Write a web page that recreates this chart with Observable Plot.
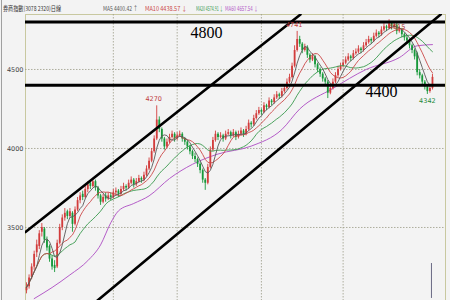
<!DOCTYPE html>
<html>
<head>
<meta charset="utf-8">
<script src="https://cdn.jsdelivr.net/npm/d3@7"></script>
<script src="https://cdn.jsdelivr.net/npm/@observablehq/plot@0.6"></script>
<style>
  body { margin: 0; background: #f3f3f3; }
  #wrap { position: relative; width: 450px; height: 300px; overflow: hidden; background: #f3f3f3; }
  #edge { position: absolute; left: 1px; top: 0; width: 1px; height: 300px; background: #a0a0a0; }
  #head { position: absolute; left: 0; top: 3px; width: 450px; height: 10px;
          font: 6.5px "Noto Sans CJK TC", "Noto Sans", sans-serif; white-space: nowrap; }
  #head span { position: absolute; top: 0; transform-origin: 0 50%; }
</style>
</head>
<body>
<div id="wrap">
  <div id="chart"></div>
  <div id="edge"></div>
  <div id="head"></div>
</div>
<script>
// Daily OHLC of the brokerage index, one entry per trading day
const open = [
  3100,3125,3185,3250,3340,3380,3470,3490,3420,3380,
  3300,3260,3250,3400,3500,3560,3600,3570,3590,3520,
  3610,3670,3710,3690,3740,3780,3760,3790,3750,3700,
  3660,3700,3680,3700,3690,3720,3730,3710,3740,3760,
  3750,3780,3800,3770,3790,3810,3800,3830,3870,3920,
  3980,4060,4180,4120,4060,4010,4040,4070,4090,4060,
  4080,4090,4060,4040,4010,3980,3950,3930,3900,3860,
  3800,3780,3880,3990,4050,4090,4070,4080,4060,4090,
  4100,4080,4100,4070,4090,4110,4090,4120,4160,4150,
  4190,4220,4240,4230,4270,4260,4300,4290,4320,4340,
  4330,4360,4380,4420,4450,4520,4620,4690,4660,4620,
  4640,4590,4560,4580,4530,4500,4470,4440,4420,4350,
  4380,4420,4460,4500,4520,4540,4560,4580,4570,4600,
  4610,4630,4620,4650,4670,4690,4680,4710,4730,4720,
  4750,4770,4760,4790,4770,4780,4740,4750,4720,4700,
  4680,4650,4620,4600,4480,4460,4420,4390,4360,4380
];
const high = [
  3150,3200,3270,3350,3420,3480,3525,3500,3440,3390,
  3320,3290,3420,3520,3580,3620,3610,3620,3600,3630,
  3690,3720,3730,3760,3790,3790,3810,3800,3760,3710,
  3710,3720,3720,3720,3740,3750,3740,3760,3780,3770,
  3800,3820,3810,3810,3830,3820,3850,3890,3940,4000,
  4080,4270,4200,4130,4070,4060,4090,4110,4100,4100,
  4110,4100,4070,4050,4020,3990,3970,3940,3910,3870,
  3810,3900,4010,4070,4110,4100,4100,4090,4110,4120,
  4110,4120,4110,4110,4130,4120,4140,4180,4170,4210,
  4240,4260,4250,4290,4280,4320,4310,4340,4360,4350,
  4380,4400,4440,4470,4540,4650,4741,4710,4670,4660,
  4650,4600,4600,4590,4540,4510,4480,4450,4430,4400,
  4440,4480,4520,4540,4560,4580,4600,4590,4620,4630,
  4650,4640,4670,4690,4710,4700,4730,4750,4740,4770,
  4790,4780,4815,4800,4800,4790,4770,4760,4730,4710,
  4690,4660,4630,4610,4500,4470,4430,4400,4400,4470
];
const low = [
  3080,3110,3170,3230,3310,3360,3440,3400,3350,3280,
  3230,3215,3240,3390,3480,3540,3550,3560,3470,3510,
  3600,3650,3670,3680,3720,3740,3750,3730,3680,3640,
  3650,3660,3670,3670,3680,3700,3690,3700,3730,3730,
  3740,3770,3750,3760,3780,3780,3790,3820,3860,3910,
  3970,4050,4100,4040,3990,4000,4030,4060,4040,4050,
  4070,4040,4020,3990,3960,3930,3910,3880,3840,3780,
  3735,3770,3870,3980,4040,4050,4060,4040,4050,4080,
  4060,4070,4050,4060,4080,4070,4080,4110,4130,4140,
  4180,4210,4210,4220,4240,4250,4270,4280,4310,4310,
  4320,4350,4370,4410,4440,4510,4610,4640,4600,4610,
  4570,4540,4550,4510,4480,4450,4420,4400,4316,4340,
  4370,4410,4450,4490,4510,4530,4550,4550,4560,4590,
  4600,4600,4610,4640,4660,4660,4670,4700,4700,4710,
  4740,4740,4750,4750,4760,4720,4730,4700,4680,4660,
  4630,4600,4560,4460,4440,4400,4370,4342,4350,4370
];
const close = [
  3120,3180,3250,3330,3390,3460,3500,3420,3370,3300,
  3250,3240,3400,3500,3560,3590,3570,3600,3520,3610,
  3670,3700,3690,3740,3770,3760,3790,3750,3700,3660,
  3690,3680,3700,3690,3720,3730,3710,3740,3760,3750,
  3780,3800,3770,3790,3810,3800,3830,3870,3920,3980,
  4060,4180,4120,4060,4010,4040,4070,4090,4060,4080,
  4090,4060,4040,4010,3980,3950,3930,3900,3860,3800,
  3780,3880,3990,4050,4090,4070,4080,4060,4090,4100,
  4080,4100,4070,4090,4110,4090,4120,4160,4150,4190,
  4220,4240,4230,4270,4260,4300,4290,4320,4340,4330,
  4360,4380,4420,4450,4520,4620,4690,4660,4620,4640,
  4590,4560,4580,4530,4500,4470,4440,4420,4350,4380,
  4420,4460,4500,4520,4540,4560,4580,4570,4600,4610,
  4630,4620,4650,4670,4690,4680,4710,4730,4720,4750,
  4770,4760,4790,4770,4780,4740,4750,4720,4700,4680,
  4650,4620,4580,4480,4460,4420,4390,4360,4380,4450
];

// 60-day moving average, sampled along the series (day index, value)
const ma60Day = [3, 10, 17, 24, 29, 33, 36, 42, 48, 56, 65, 75, 88, 100, 107, 120, 133, 146, 153, 159];
const ma60Val = [3050, 3120, 3200, 3290, 3390, 3530, 3605, 3652, 3700, 3810, 3900, 3965, 4015, 4120, 4250, 4380, 4500, 4575, 4650, 4657.54];

// month boundaries (day index) and price gridlines
const monthTicks = [34, 59, 92, 124];
const priceTicks = [3500, 4000, 4500];

// support / resistance levels and the two channel lines (day index, price)
const levels = [4800, 4400];
const channelUpper = [[-0.4, 3471], [107.3, 4848]];
const channelLower = [[27.8, 3038], [162.2, 4848]];

// marked turning points
const peakDays = [51, 106];
const lateHighDays = [142];
const troughDays = [157];

// header
const title = "券商指數(3078 2320)日線";
const maNames = ["MA5", "MA10", "MA20", "MA60"];
const maLast = ["4400.42", "4438.57", "4574.91", "4657.54"];
const maDir = ["↑", "↓", "↓", "↓"];

const RED = "#d23c3c", GREEN = "#17983a";
const maColors = ["#585858", "#cc4848", "#3a9a4e", "#b45cc8"];
const xDomain = [-0.4, 164.1];
const yDomain = [3038, 4848];

const bars = close.map((c, i) => ({i, o: open[i], h: high[i], l: low[i], c}));
const up = bars.filter(d => d.c >= d.o);
const down = bars.filter(d => d.c < d.o);
const ma60 = ma60Day.map((d, k) => ({i: d, v: ma60Val[k]}));
const chan = (pts) => pts.map(([i, v]) => ({i, v}));

const grid = {stroke: "#9c9c88", strokeDasharray: "1.5,1.5", strokeWidth: 0.8};
const serif = "Liberation Serif, Times New Roman, serif";

const chart = Plot.plot({
  width: 450,
  height: 300,
  marginTop: 14,
  marginBottom: 0,
  marginLeft: 25,
  marginRight: 5,
  style: {background: "#f3f3f3", fontFamily: "DejaVu Sans, sans-serif"},
  x: {type: "linear", domain: xDomain, axis: null},
  y: {type: "linear", domain: yDomain, axis: null},
  marks: [
    Plot.frame({stroke: "#c8c8a0"}),
    Plot.ruleY(priceTicks, grid),
    Plot.ruleX(monthTicks, grid),
    Plot.text(priceTicks, {y: d => d, text: d => String(d), frameAnchor: "left", textAnchor: "end",
      dx: -2, fontSize: 6.5, fill: "#444"}),

    Plot.line(ma60, {x: "i", y: "v", stroke: maColors[3], strokeWidth: 1, curve: "monotone-x"}),

    // candles: wicks then bodies
    Plot.ruleX(up, {x: "i", y1: "l", y2: "h", stroke: RED, strokeWidth: 0.9}),
    Plot.ruleX(down, {x: "i", y1: "l", y2: "h", stroke: GREEN, strokeWidth: 0.9}),
    Plot.ruleX(up, {x: "i", y1: "o", y2: "c", stroke: RED, strokeWidth: 1.8}),
    Plot.ruleX(down, {x: "i", y1: "o", y2: "c", stroke: GREEN, strokeWidth: 1.8}),

    Plot.lineY(bars, Plot.windowY({k: 20, anchor: "end"}, {x: "i", y: "c", stroke: maColors[2], strokeWidth: 0.9})),
    Plot.lineY(bars, Plot.windowY({k: 10, anchor: "end"}, {x: "i", y: "c", stroke: maColors[1], strokeWidth: 0.9})),
    Plot.lineY(bars, Plot.windowY({k: 5, anchor: "end"}, {x: "i", y: "c", stroke: maColors[0], strokeWidth: 0.9})),

    // hand-drawn levels and channel
    Plot.ruleY(levels, {stroke: "#000", strokeWidth: 3}),
    Plot.line(chan(channelUpper), {x: "i", y: "v", stroke: "#000", strokeWidth: 2.6, clip: true}),
    Plot.line(chan(channelLower), {x: "i", y: "v", stroke: "#000", strokeWidth: 2.6, clip: true}),
    Plot.text([levels[0]], {x: 70.5, y: d => d, text: d => String(d), dy: 11, fontSize: 16, fontFamily: serif, fill: "#000"}),
    Plot.text([levels[1]], {x: 139, y: d => d, text: d => String(d), dy: 7, fontSize: 16, fontFamily: serif, fill: "#000"}),

    // extreme value labels
    Plot.text(peakDays, {x: d => d, y: d => high[d], text: d => String(high[d]), dy: -7, dx: -3, fontSize: 6.5, fill: "#c03c3c"}),
    Plot.text(lateHighDays, {x: d => d, y: d => high[d], text: d => String(high[d]), dy: 7, dx: 8, fontSize: 6.5, fill: "#a8302a"}),
    Plot.text(troughDays, {x: d => d, y: d => low[d], text: d => String(low[d]), dy: 6, fontSize: 6.5, fill: "#1f8a3a"}),

    // crosshair cursor stub
    Plot.ruleX([158.6], {y1: 3051, y2: 3272, stroke: "#6a6a84", strokeWidth: 1})
  ]
});
document.getElementById("chart").appendChild(chart);

// header: title and moving-average legend, each squeezed into its slot
const head = document.getElementById("head");
const addSpan = (text, left, width, color) => {
  const s = document.createElement("span");
  s.textContent = text;
  s.style.left = left + "px";
  s.style.color = color;
  head.appendChild(s);
  const w = s.getBoundingClientRect().width;
  if (w > width) s.style.transform = `scaleX(${width / w})`;
};
addSpan(title, 3, 58, "#333");
const legendLeft = [103, 145, 196, 225];
const legendWidth = [35, 42, 27, 33];
maNames.forEach((n, k) => addSpan(`${n} ${maLast[k]} ${maDir[k]}`, legendLeft[k], legendWidth[k], maColors[k]));
</script>
</body>
</html>
